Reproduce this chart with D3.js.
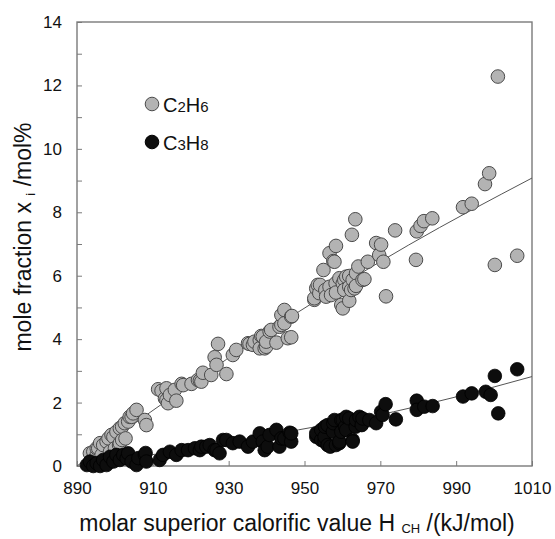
<!DOCTYPE html>
<html><head><meta charset="utf-8">
<script src="https://cdn.jsdelivr.net/npm/d3@7"></script>
<style>
body{margin:0;background:#fff;}
text{font-family:"Liberation Sans",Arial,Helvetica,sans-serif;fill:#111;}
</style></head>
<body>
<svg id="chart" width="555" height="539"></svg>
<script>
// ---- data ----
const xTicks = [890, 910, 930, 950, 970, 990, 1010];
const yTicks = [0,1,2,3,4,5,6,7,8,9,10,11,12,13,14];
const seriesNames = ["C2H6", "C3H8"];

const c2h6 = [
[893.4,0.40],[894.3,0.45],[895.2,0.35],[895.2,0.56],[895.6,0.56],[896.1,0.72],[896.5,0.35],[896.9,0.66],[897.8,0.77],[898.3,0.87],[898.7,0.45],[899.1,0.98],[899.6,0.92],[900.0,0.56],[900.4,1.08],[901.1,0.66],[901.3,1.19],[901.3,0.72],[901.9,0.82],[901.9,1.24],[902.6,1.35],[902.8,0.87],[903.5,1.40],[903.9,1.55],[904.4,1.55],[904.8,1.66],[905.7,1.77],[907.9,1.45],[908.3,1.29],
[911.4,2.42],[912.3,2.37],[913.2,2.13],[913.6,2.45],[913.6,2.08],[914.0,1.98],[914.5,2.24],[915.8,2.40],[916.2,2.06],[917.6,2.59],[918.0,2.55],[920.2,2.59],[921.9,2.71],[922.4,2.69],[922.8,2.66],[923.2,2.94],[925.4,2.87],[926.3,3.43],[926.8,3.19],[927.2,3.85],[929.4,2.90],[931.1,3.50],[932.0,3.66],
[935.1,3.87],[935.5,3.85],[936.4,3.82],[936.8,3.92],[938.2,3.97],[938.2,3.71],[938.6,4.10],[939.0,4.08],[939.5,3.71],[939.9,3.76],[939.9,3.92],[940.8,4.24],[941.2,4.29],[942.6,3.89],[943.4,4.39],[943.9,4.45],[943.9,4.76],[944.7,4.92],[944.7,4.50],[945.6,4.03],[946.5,4.06],[946.5,4.71],[946.7,4.73],
[952.6,5.24],[952.6,5.29],[953.1,5.60],[953.5,5.71],[953.9,5.45],[954.1,5.71],[955.0,6.18],[955.5,5.55],[955.7,5.34],[956.6,5.65],[956.6,6.71],[957.0,5.39],[957.6,6.46],[957.9,6.44],[958.2,5.76],[958.3,5.47],[958.3,6.94],[959.2,5.92],[959.7,5.08],[960.1,4.97],[960.1,5.76],[960.5,5.87],[960.5,5.55],[961.0,5.97],[961.8,5.99],[961.8,5.65],[961.8,5.21],[962.3,5.55],[962.5,7.29],[962.7,5.87],[963.2,5.60],[963.4,7.78],[963.6,6.08],[963.6,5.68],[964.2,6.29],[965.3,5.87],[965.8,5.89],[966.7,6.44],[968.9,7.03],[969.7,6.65],[970.2,6.98],[970.8,6.44],[971.5,5.35],[973.9,7.43],[979.4,6.50],[979.6,7.40],[980.6,7.57],[981.5,7.72],[983.7,7.81],[991.8,8.16],[994.1,8.27],[997.6,8.89],[998.7,9.23],[1000.2,6.34],[1001.0,12.28],[1006.1,6.63]
];

const c3h8 = [
[892.6,0.03],[893.4,0.14],[894.3,0.00],[895.2,0.09],[896.1,0.00],[896.9,0.19],[897.8,0.03],[898.7,0.29],[899.6,0.14],[900.4,0.35],[901.3,0.19],[902.2,0.35],[903.1,0.24],[903.5,0.40],[904.4,0.14],[905.7,0.03],[906.2,0.25],[907.9,0.35],[908.1,0.41],[908.3,0.14],[911.8,0.19],[912.7,0.35],[914.5,0.45],[916.2,0.35],[917.6,0.50],[919.3,0.50],[921.1,0.56],[922.4,0.50],[922.8,0.61],[924.1,0.61],[925.0,0.66],[926.3,0.50],[926.8,0.50],[927.6,0.40],[928.5,0.82],[929.4,0.82],[931.1,0.72],[932.9,0.77],[935.1,0.61],[936.4,0.77],[938.2,1.03],[939.0,0.77],[939.5,0.50],[940.3,0.61],[940.8,0.98],[942.6,1.14],[943.4,0.61],[943.9,0.87],[944.7,0.87],[946.1,1.05],[946.5,0.77],[946.5,1.03],
[953.1,0.92],[953.1,1.03],[954.4,0.82],[954.4,1.14],[955.3,0.77],[955.3,0.92],[955.4,1.24],[956.1,0.66],[956.1,1.29],[956.8,0.61],[957.5,1.08],[957.6,1.35],[957.9,1.45],[958.3,0.66],[959.2,0.72],[959.2,0.77],[959.7,1.08],[959.7,1.45],[960.1,1.45],[960.7,1.24],[961.0,1.55],[961.0,1.14],[961.8,1.50],[962.7,0.82],[962.7,0.77],[963.5,1.24],[963.6,1.45],[964.5,1.55],[965.1,1.29],[965.3,1.50],[967.1,1.45],[968.9,1.35],[970.2,1.71],[970.6,1.61],[971.4,1.95],[974.1,1.47],[979.6,2.06],[979.6,1.77],[981.6,1.87],[983.8,1.89],[991.8,2.19],[994.1,2.29],[997.8,2.34],[999.1,2.24],[1000.2,2.84],[1001.1,1.66],[1006.1,3.05]
];

// fit curves
const c2h6Fit = [[890,0.0],[900,0.89],[909.5,1.71],[929.4,3.36],[947.9,4.82],[962,5.87],[977.5,6.97],[1010,9.08]];
const c3h8Fit = [[892,0.02],[910,0.36],[930,0.75],[948.4,1.14],[973.5,1.71],[990,2.18],[1010,2.82]];

// ---- drawing ----
const svg = d3.select("#chart");
const L = 77, R = 532, T = 22, B = 466;
const x = d3.scaleLinear().domain([890, 1010]).range([L, R]);
const y = d3.scaleLinear().domain([0, 14]).range([B, T]);
const axisColor = "#7a7a7a";

// axes
const gx = svg.append("g").attr("transform", `translate(0,${B})`)
  .call(d3.axisBottom(x).tickValues(xTicks).tickSize(-5).tickPadding(19).tickFormat(d3.format("d")));
const gy = svg.append("g").attr("transform", `translate(${L},0)`)
  .call(d3.axisLeft(y).tickValues(yTicks).tickSize(-5).tickPadding(15).tickFormat(d => d % 2 === 0 ? d : ""));
[gx, gy].forEach(g => {
  g.select(".domain").remove();
  g.selectAll(".tick line").attr("stroke", axisColor).attr("stroke-width", 1);
  g.selectAll(".tick text").style("font-size", "17px").attr("fill", "#111")
    .style("font-family", '"Liberation Sans", Arial, sans-serif');
});
gx.selectAll(".tick text").attr("dy", "0.5em");

// frame
svg.append("rect").attr("x", L).attr("y", T).attr("width", R - L).attr("height", B - T)
  .attr("fill", "none").attr("stroke", axisColor).attr("stroke-width", 1.4);

// fit lines
const line = d3.line().x(d => x(d[0])).y(d => y(d[1])).curve(d3.curveMonotoneX);
svg.append("path").datum(c2h6Fit).attr("d", line).attr("fill", "none").attr("stroke", "#555").attr("stroke-width", 1);
svg.append("path").datum(c3h8Fit).attr("d", line).attr("fill", "none").attr("stroke", "#555").attr("stroke-width", 1);

// points
const r = 6.8;
svg.append("g").selectAll("circle").data(c2h6).join("circle")
  .attr("cx", d => x(d[0])).attr("cy", d => y(d[1])).attr("r", r)
  .attr("fill", "#b3b3b3").attr("stroke", "#4a4a4a").attr("stroke-width", 1);
svg.append("g").selectAll("circle").data(c3h8).join("circle")
  .attr("cx", d => x(d[0])).attr("cy", d => y(d[1])).attr("r", r)
  .attr("fill", "#0d0d0d").attr("stroke", "#000").attr("stroke-width", 0.8);

// legend
const leg = [
  {name: seriesNames[0], fill: "#b3b3b3", stroke: "#4a4a4a", cy: 104},
  {name: seriesNames[1], fill: "#0d0d0d", stroke: "#000", cy: 142}
];
leg.forEach(l => {
  svg.append("circle").attr("cx", 152).attr("cy", l.cy).attr("r", r)
    .attr("fill", l.fill).attr("stroke", l.stroke).attr("stroke-width", 1);
  const t = svg.append("text").attr("x", 163).attr("y", l.cy + 7.5).style("font-size", "20px");
  const parts = l.name.match(/[A-Z]+|\d+/g);
  parts.forEach(p => {
    t.append("tspan").text(p).style("font-size", /\d/.test(p) ? "15px" : "20px");
  });
});

// axis titles
const xt = svg.append("text").attr("x", 297).attr("y", 531).attr("text-anchor", "middle").style("font-size", "23px");
xt.append("tspan").text("molar superior calorific value H ");
xt.append("tspan").text("CH").style("font-size", "13px").attr("dy", "2");
xt.append("tspan").text(" /(kJ/mol)").attr("dy", "-2");

const yt = svg.append("text").attr("transform", `translate(31,${237}) rotate(-90)`).attr("text-anchor", "middle").style("font-size", "23px");
yt.append("tspan").text("mole fraction x ");
yt.append("tspan").text("i").style("font-size", "13px").attr("dy", "4");
yt.append("tspan").text(" /mol%").attr("dy", "-4");
</script>
</body></html>
